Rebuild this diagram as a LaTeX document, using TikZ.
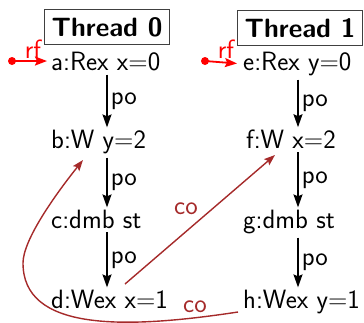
\documentclass[tikz,border=0pt]{standalone}
\usetikzlibrary{arrows.meta,calc}
\definecolor{cobrown}{HTML}{A52A2A}
\begin{document}
\begin{tikzpicture}[x=1pt,y=-1pt,
  txt/.style={font=\fontsize{26.5}{30}\selectfont\sffamily},
  ev/.style={txt,anchor=base west,inner sep=0pt},
  thr/.style={draw=black!75,line width=1pt,inner xsep=7pt,minimum height=35pt,
    font=\fontsize{26.5}{30}\selectfont\sffamily\bfseries},
  poarr/.style={-{Stealth[length=13pt,width=9pt,inset=2pt]},line width=1.6pt},
  polbl/.style={txt,anchor=west,inner sep=0pt},
  rfarr/.style={red,line width=1.8pt,-{Stealth[length=12pt,width=9pt,inset=2pt]}},
  rflbl/.style={txt,red,inner sep=0pt},
  coarr/.style={cobrown,line width=1.4pt,-{Stealth[length=11pt,width=8pt,inset=2pt]}},
  colbl/.style={txt,cobrown,inner sep=0pt}]
\useasboundingbox (0,0) rectangle (364,322);
% thread headers
\node[thr] (t0) at (107,27) {Thread 0};
\node[thr] (t1) at (300,28) {Thread 1};
% events
\node[ev] (a) at (51,70) {a:Rex x=0};
\node[ev] (b) at (51,148) {b:W y=2};
\node[ev] (c) at (51,228) {c:dmb st};
\node[ev] (d) at (51,308) {d:Wex x=1};
\node[ev] (e) at (243,70) {e:Rex y=0};
\node[ev] (f) at (246,148) {f:W x=2};
\node[ev] (g) at (243,228) {g:dmb st};
\node[ev] (h) at (243,308) {h:Wex y=1};
% columns
\coordinate (c0) at (107,0);
\coordinate (c1) at (298,0);
% po edges
\draw[poarr] ($(a.south -| c0)+(0,4)$) -- ($(b.north -| c0)+(0,-2)$) node[polbl,midway,xshift=3pt,yshift=0pt] {po};
\draw[poarr] ($(b.south -| c0)+(0,4)$) -- ($(c.north -| c0)+(0,-2)$) node[polbl,midway,xshift=3pt,yshift=0pt] {po};
\draw[poarr] ($(c.south -| c0)+(0,4)$) -- ($(d.north -| c0)+(0,-2)$) node[polbl,midway,xshift=3pt,yshift=0pt] {po};
\draw[poarr] ($(e.south -| c1)+(0,4)$) -- ($(f.north -| c1)+(0,-2)$) node[polbl,midway,xshift=3pt,yshift=0pt] {po};
\draw[poarr] ($(f.south -| c1)+(0,4)$) -- ($(g.north -| c1)+(0,-2)$) node[polbl,midway,xshift=3pt,yshift=0pt] {po};
\draw[poarr] ($(g.south -| c1)+(0,4)$) -- ($(h.north -| c1)+(0,-2)$) node[polbl,midway,xshift=3pt,yshift=0pt] {po};
% rf edges
\coordinate (ra) at (12,61);
\coordinate (re) at (205,61);
\fill[red] (ra) circle (4pt);
\fill[red] (re) circle (4pt);
\draw[rfarr] (ra) -- ($(a.west)+(-4,0)$);
\draw[rfarr] (re) -- ($(e.west)+(-6,0)$);
\node[rflbl] (rfa) at (33,49) {rf};
\node[rflbl] (rfe) at (226,49) {rf};
% co edges
\coordinate (dco) at (125,284);
\coordinate (fco) at (275,155);
\draw[coarr] (dco) -- (fco);
\node[colbl] (co1) at (186,209) {co};
\coordinate (hco) at (238,312);
\coordinate (bco) at (83,160);
\draw[coarr] (hco) .. controls (120,330) and (23,330) .. (23,263)
  .. controls (23,240) and (55,195) .. (bco);
\node[colbl] (co2) at (195,307) {co};
\end{tikzpicture}
\end{document}
